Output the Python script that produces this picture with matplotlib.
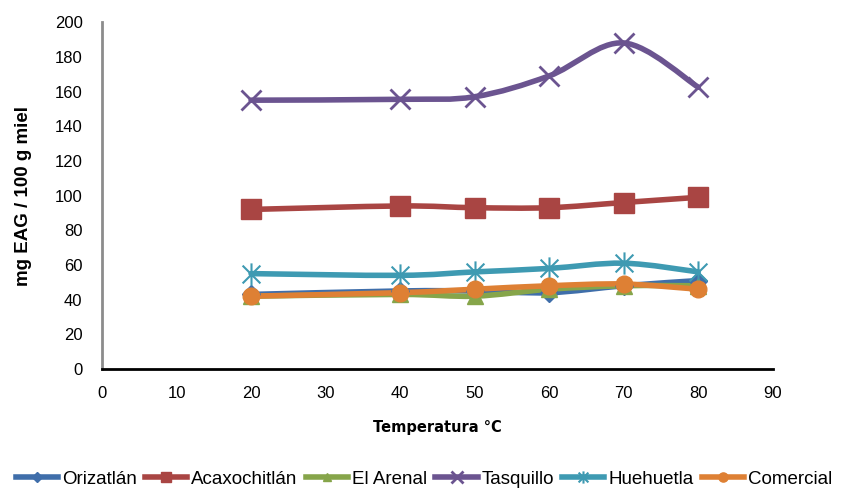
import numpy as np
import matplotlib
matplotlib.use('Agg')
import matplotlib.pyplot as plt
from matplotlib.path import Path
from matplotlib.patches import PathPatch
from matplotlib.lines import Line2D

# temperatures (°C) and total phenolics per sample
temps = [20, 40, 50, 60, 70, 80]
orizatlan = [43, 45, 45, 44, 48, 51]
acaxochitlan = [92, 94, 93, 93, 96, 99]
el_arenal = [42, 43, 42, 46, 48, 48]
tasquillo = [155, 155.5, 157, 169, 188, 162.5]
huehuetla = [55, 54, 56, 58, 61, 56]
comercial = [42, 44, 46, 48, 49, 46]

names = ['Orizatlán', 'Acaxochitlán', 'El Arenal', 'Tasquillo', 'Huehuetla', 'Comercial']
series = [orizatlan, acaxochitlan, el_arenal, tasquillo, huehuetla, comercial]
colors = ['#3F6EAA', '#A94543', '#86A54A', '#6B5490', '#3E9AB2', '#DE8034']

# asterisk: vertical bar plus an X
star = Path([(0, -1), (0, 1), (-0.8, -0.8), (0.8, 0.8), (-0.8, 0.8), (0.8, -0.8)],
            [Path.MOVETO, Path.LINETO, Path.MOVETO, Path.LINETO, Path.MOVETO, Path.LINETO])
markers = ['D', 's', '^', 'x', star, 'o']
msizes = [9, 14, 11, 15, 16, 12]
mews = [1, 1, 1, 2, 1.5, 1]


def smooth_path(x, y, t=0.5):
    # cubic Bezier through every point (Catmull-Rom style tangents)
    x = np.asarray(x, float)
    y = np.asarray(y, float)
    n = len(x)
    verts = [(x[0], y[0])]
    codes = [Path.MOVETO]
    for i in range(n - 1):
        x0, y0 = (x[i - 1], y[i - 1]) if i > 0 else (x[i], y[i])
        x3, y3 = (x[i + 2], y[i + 2]) if i + 2 < n else (x[i + 1], y[i + 1])
        c1 = (x[i] + (x[i + 1] - x0) * t / 3, y[i] + (y[i + 1] - y0) * t / 3)
        c2 = (x[i + 1] - (x3 - x[i]) * t / 3, y[i + 1] - (y3 - y[i]) * t / 3)
        verts += [c1, c2, (x[i + 1], y[i + 1])]
        codes += [Path.CURVE4] * 3
    return Path(verts, codes)


fig = plt.figure(figsize=(8.48, 4.92), dpi=100)
ax = fig.add_axes([0.1203, 0.25, 0.791, 0.705])

for vals, c, m, ms, mw in zip(series, colors, markers, msizes, mews):
    ax.add_patch(PathPatch(smooth_path(temps, vals), facecolor='none', edgecolor=c,
                           lw=4, capstyle='round', joinstyle='round'))
    if m == 'x' or m is star:
        ax.plot(temps, vals, ls='none', marker=m, ms=ms, mec=c, mew=mw)
    else:
        ax.plot(temps, vals, ls='none', marker=m, ms=ms, mfc=c, mec=c)

ax.set_xlim(0, 90)
ax.set_ylim(0, 200)
ax.set_xticks(range(0, 91, 10))
ax.set_yticks(range(0, 201, 20))
for s in ['top', 'right']:
    ax.spines[s].set_visible(False)
ax.spines['left'].set_color('#8C8C8C')
ax.spines['left'].set_linewidth(2)
ax.spines['bottom'].set_color('black')
ax.spines['bottom'].set_linewidth(2)
ax.tick_params(length=0, labelsize=12)
ax.tick_params(axis='x', pad=12)
ax.tick_params(axis='y', pad=14)
for lab in ax.get_xticklabels() + ax.get_yticklabels():
    lab.set_family('Liberation Sans')

ax.set_xlabel('Temperatura °C', fontsize=10.5, fontweight='bold', family='DejaVu Sans', labelpad=14)
ax.set_ylabel('mg EAG / 100 g miel', fontsize=13.5, fontweight='bold',
              family='Liberation Sans', labelpad=16)

handles = [Line2D([], [], color=c, lw=4, marker=m, ms=ms * 0.55, mfc=c, mec=c, mew=mw)
           for c, m, ms, mw in zip(colors, markers, msizes, mews)]
fig.legend(handles, names, loc='center', bbox_to_anchor=(0.5, 0.026), ncol=6,
           frameon=False, handlelength=2.25, handletextpad=0.2, columnspacing=0.45,
           borderpad=0, prop={'family': 'Liberation Sans', 'size': 13.5})

fig.savefig('out.png', dpi=100)
